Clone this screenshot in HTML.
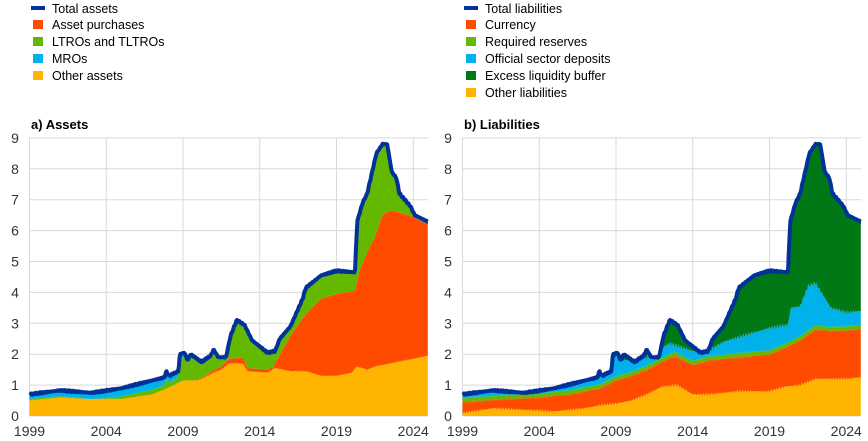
<!DOCTYPE html>
<html><head><meta charset="utf-8"><style>
body{margin:0;background:#fff;}
svg{display:block;font-family:"Liberation Sans",Arial,sans-serif;}
</style></head><body>
<svg id="s" width="868" height="441" xmlns="http://www.w3.org/2000/svg">
<g font-size="12.5" fill="#000">
<rect x="31" y="6" width="14" height="4" fill="#003299"/><text x="52" y="13">Total assets</text>
<rect x="33" y="20" width="10" height="9" fill="#ff4b00"/><text x="52" y="29">Asset purchases</text>
<rect x="33" y="37" width="10" height="9" fill="#65b800"/><text x="52" y="46">LTROs and TLTROs</text>
<rect x="33" y="54" width="10" height="9" fill="#00b1ea"/><text x="52" y="63">MROs</text>
<rect x="33" y="71" width="10" height="9" fill="#ffb400"/><text x="52" y="80">Other assets</text>
<rect x="464" y="6" width="14" height="4" fill="#003299"/><text x="485" y="13">Total liabilities</text>
<rect x="466" y="20" width="10" height="9" fill="#ff4b00"/><text x="485" y="29">Currency</text>
<rect x="466" y="37" width="10" height="9" fill="#65b800"/><text x="485" y="46">Required reserves</text>
<rect x="466" y="54" width="10" height="9" fill="#00b1ea"/><text x="485" y="63">Official sector deposits</text>
<rect x="466" y="71" width="10" height="9" fill="#007816"/><text x="485" y="80">Excess liquidity buffer</text>
<rect x="466" y="88" width="10" height="9" fill="#ffb400"/><text x="485" y="97">Other liabilities</text>
<text x="31" y="129" font-weight="bold" font-size="13">a) Assets</text>
<text x="464" y="129" font-weight="bold" font-size="13">b) Liabilities</text>
</g>
<g id="g"></g>
</svg>
<script>
const NS="http://www.w3.org/2000/svg",G=document.getElementById('g');
function el(t,a,txt){const e=document.createElementNS(NS,t);for(const k in a)e.setAttribute(k,a[k]);if(txt!==undefined)e.textContent=txt;G.appendChild(e);return e;}
function interp(p,x){if(x<=p[0][0])return p[0][1];for(let i=1;i<p.length;i++){if(x<=p[i][0]){const[a,b]=p[i-1],[c,d]=p[i];return b+(d-b)*(x-a)/(c-a);}}return p[p.length-1][1];}
function noise(x,s){return (Math.sin(x*37.1+s)*0.5+Math.sin(x*91.7+s*2)*0.5)*0.025;}
const total=[[1999,0.7],[2001,0.83],[2003,0.75],[2004,0.82],[2005,0.9],[2007,1.15],[2007.8,1.25],[2007.9,1.45],[2008.1,1.3],[2008.7,1.45],[2008.8,2.0],[2009.1,2.05],[2009.3,1.8],[2009.5,2.0],[2010.2,1.75],[2010.8,1.95],[2011,2.15],[2011.3,1.9],[2011.8,1.9],[2012.1,2.6],[2012.5,3.1],[2013,2.95],[2013.5,2.45],[2014.5,2.05],[2015,2.1],[2015.3,2.5],[2016,2.9],[2016.8,3.8],[2017,4.15],[2018,4.55],[2019,4.7],[2020.2,4.65],[2020.35,6.3],[2020.7,6.9],[2021,7.2],[2021.6,8.5],[2022,8.8],[2022.3,8.8],[2022.6,7.9],[2022.9,7.7],[2023.1,7.2],[2023.8,6.8],[2024.1,6.5],[2024.9,6.3]];
const aY=[[1999,0.5],[2001,0.6],[2003,0.55],[2005,0.55],[2007,0.7],[2008,0.9],[2009,1.15],[2010,1.15],[2011,1.4],[2011.5,1.5],[2012,1.7],[2012.9,1.7],[2013.2,1.45],[2014.5,1.4],[2015,1.55],[2016,1.45],[2017,1.45],[2018,1.3],[2019,1.3],[2020,1.4],[2020.3,1.6],[2021,1.5],[2021.5,1.6],[2023,1.75],[2024,1.85],[2024.9,1.95]];
const aRinc=[[1999,0],[2009.5,0],[2010.5,0.05],[2011.5,0.1],[2012,0.15],[2012.9,0.2],[2013.2,0.1],[2014.8,0.1]];
const aR=[[2014.8,1.5],[2015,1.7],[2016,2.6],[2017,3.3],[2018,3.8],[2019,3.95],[2020.2,4.05],[2020.5,4.7],[2021,5.3],[2021.5,5.8],[2022,6.5],[2022.5,6.65],[2023,6.6],[2024,6.45],[2024.9,6.2]];
const mro=[[1999,0.15],[2007,0.3],[2008.5,0.2],[2009.5,0.1],[2011,0.05],[2015,0.02],[2025,0.0]];
const lY=[[1999,0.1],[2001,0.25],[2003,0.2],[2005,0.15],[2007,0.25],[2008,0.35],[2009,0.4],[2010,0.5],[2011,0.7],[2012,0.95],[2013,1.0],[2014,0.7],[2015,0.7],[2017,0.8],[2019,0.8],[2020,0.95],[2021,1.0],[2022,1.2],[2024,1.2],[2024.9,1.25]];
const lR=[[1999,0.45],[2002,0.55],[2004,0.6],[2006,0.7],[2008,0.9],[2009,1.15],[2010,1.3],[2011,1.5],[2012,1.75],[2012.8,1.95],[2014,1.65],[2015,1.8],[2017,1.9],[2019,2.0],[2020,2.2],[2021,2.45],[2022,2.8],[2023,2.75],[2024.9,2.8]];
const lC=[[1999,0.8],[2008.7,1.45],[2008.8,1.95],[2009.5,1.8],[2011,1.9],[2012,2.2],[2012.5,2.35],[2014,2.1],[2015,2.1],[2016,2.4],[2017,2.55],[2018,2.7],[2019,2.85],[2020.2,2.95],[2020.4,3.5],[2021,3.55],[2021.5,4.2],[2022,4.3],[2022.5,3.9],[2023,3.5],[2024,3.35],[2024.9,3.4]];
const X0=1999,X1=2024.95,N=520;
function chart(ox,layers){
  const sx=v=>ox+29.5+(v-1999)*15.35, sy=v=>416-v*30.9;
  for(let i=0;i<=9;i++){el('line',{x1:ox+29.5,x2:ox+428,y1:sy(i),y2:sy(i),stroke:'#d9d9d9','stroke-width':1});
    el('text',{x:ox+15,y:sy(i)+5,'text-anchor':'middle','font-size':'14',fill:'#333'},String(i));}
  for(let y=1999;y<=2024;y+=5){el('line',{x1:sx(y),x2:sx(y),y1:sy(9),y2:sy(0),stroke:'#d9d9d9','stroke-width':1});
    el('text',{x:sx(y),y:436,'text-anchor':'middle','font-size':'14',fill:'#333'},String(y));}
  const xs=[];for(let i=0;i<=N;i++)xs.push(X0+(X1-X0)*i/N);
  const tops=layers.map(l=>xs.map(x=>l.f(x)));
  let prev=xs.map(()=>0);
  layers.forEach((l,k)=>{
    const t=tops[k].map((v,i)=>Math.max(v,prev[i]));
    let d='M'+xs.map((x,i)=>sx(x).toFixed(1)+','+sy(t[i]).toFixed(1)).join('L');
    for(let i=N;i>=0;i--)d+='L'+sx(xs[i]).toFixed(1)+','+sy(prev[i]).toFixed(1);
    el('path',{d:d+'Z',fill:l.c});prev=t;});
  const d='M'+xs.map(x=>sx(x).toFixed(1)+','+sy(interp(total,x)+noise(x,1)).toFixed(1)).join('L');
  el('path',{d,fill:'none',stroke:'#003299','stroke-width':4,'stroke-linejoin':'round'});
}
const T=x=>interp(total,x)+noise(x,1);
const AY=x=>interp(aY,x)+noise(x,3);
chart(0,[
 {c:'#ffb400',f:AY},
 {c:'#ff4b00',f:x=>x<2014.8?AY(x)+interp(aRinc,x):Math.max(AY(x),interp(aR,x)+noise(x,5))},
 {c:'#65b800',f:x=>T(x)-interp(mro,x)},
 {c:'#00b1ea',f:x=>T(x)}]);
chart(433,[
 {c:'#ffb400',f:x=>interp(lY,x)+noise(x,7)*2},
 {c:'#ff4b00',f:x=>interp(lR,x)+noise(x,9)*2},
 {c:'#65b800',f:x=>interp(lR,x)+noise(x,9)*2+0.13},
 {c:'#00b1ea',f:x=>Math.min(T(x),interp(lC,x)+noise(x,11)*3)},
 {c:'#007816',f:x=>T(x)}]);
</script>
</body></html>
